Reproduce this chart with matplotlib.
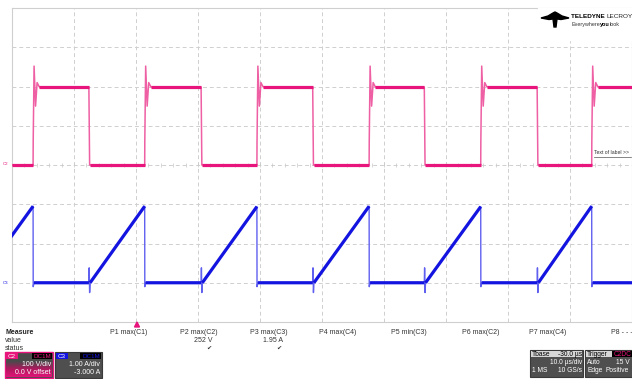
import matplotlib
matplotlib.use("Agg")
import matplotlib.pyplot as plt
from matplotlib.patches import Rectangle, Polygon
from matplotlib.colors import LinearSegmentedColormap
import numpy as np

plt.rcParams['font.family'] = ['Liberation Sans', 'DejaVu Sans']

W, H = 632, 379

# ---- data (time in us, 10 us/div) ----
rise_us = [3.4, 21.4, 39.5, 57.6, 75.6, 93.5]
fall_us = [-5.7, 12.4, 30.5, 48.5, 66.5, 84.7]
v_high = 198.0          # C2 plateau, V
ring_dt = [0.16, 0.4, 0.65, 1.0]
ring_v = [252.0, 150.0, 210.0, 199.0]
i_peak = [1.95, 1.95, 1.94, 1.95, 1.94, 1.95]   # C3 ramp peak, A
i_spike = [0.38, -0.25]

pink = "#E8157C"
pink_lt = "#EE5FA3"
blue = "#1414E0"
blue_lt = "#6060F0"
gridc = "#CFCFCF"

meas_names = ["P1 max(C1)", "P2 max(C2)", "P3 max(C3)", "P4 max(C4)",
              "P5 min(C3)", "P6 max(C2)", "P7 max(C4)", "P8 - - -"]
meas_x = [110, 180, 250, 319, 391, 462, 529, 611]
meas_vals = {1: "252 V", 2: "1.95 A"}


def fx(x):
    return x / W


def fy(y):
    return 1 - y / H


fig = plt.figure(figsize=(W / 100, H / 100), dpi=100)
fig.patch.set_facecolor("white")

ax = fig.add_axes([fx(12), fy(322), (632 - 12) / W, (322 - 8) / H])
ax.set_xlim(0, 100)
ax.set_ylim(-400, 400)
ax.set_xticks([])
ax.set_yticks([])
for s in ax.spines.values():
    s.set_color(gridc)
    s.set_linewidth(0.8)
for k in range(1, 10):
    ax.axvline(k * 10, color=gridc, lw=0.7, ls=(0, (4, 3)), zorder=0)
for k in range(1, 8):
    ax.axhline(-400 + k * 100, color=gridc, lw=0.7, ls=(0, (4, 3)), zorder=0)
# centre line ticks
tk = np.arange(0, 100.1, 2)
ax.plot(tk, np.zeros_like(tk), "|", color="#C8C8C8", ms=2.2, mew=0.5, zorder=0)

ax2 = ax.twinx()
ax2.set_ylim(-1, 7)
ax2.axis("off")

# ---- C2 (voltage) ----
tp, vp = [0.0], [0.0]
plat_t = [0.0, rise_us[0], np.nan]
plat_v = [0.0, 0.0, np.nan]
for r in rise_us:
    f_after = [f for f in fall_us if f > r]
    tp += [r, r + 0.02]
    vp += [0.0, 60.0]
    tp += [r + d for d in ring_dt]
    vp += ring_v
    if f_after:
        f = f_after[0]
        nxt = [x for x in rise_us if x > f]
        end = nxt[0] if nxt else 100.0
        tp += [f, f + 0.12, end]
        vp += [v_high, 0.0, 0.0]
        plat_t += [r + ring_dt[-1], f, np.nan, f + 0.15, end, np.nan]
        plat_v += [v_high, v_high, np.nan, 0.0, 0.0, np.nan]
    else:
        tp += [100.0]
        vp += [v_high]
        plat_t += [r + ring_dt[-1], 100.0]
        plat_v += [v_high, v_high]
ax.plot(tp, vp, color=pink_lt, lw=1.1, zorder=3)
ax.plot(plat_t, plat_v, color=pink, lw=2.3, zorder=4, solid_capstyle="butt")

# ---- C3 (current) ----
ti, ii = [], []
ramp_t, ramp_i = [], []
for k, f in enumerate(fall_us):
    r = rise_us[k]
    pk = i_peak[k]
    ti += [f, f + 0.05, f + 0.12, f + 0.2, r, r + 0.02, r + 0.15]
    ii += [0.0, i_spike[0], i_spike[1], 0.0, pk, -0.1, 0.0]
    nxt = [x for x in fall_us if x > r]
    end = nxt[0] if nxt else 100.0
    ti += [end]
    ii += [0.0]
    ramp_t += [f + 0.2, r, np.nan, r + 0.15, end, np.nan]
    ramp_i += [0.0, pk, np.nan, 0.0, 0.0, np.nan]
ax2.plot(ti, ii, color=blue_lt, lw=1.0, zorder=3)
ax2.plot(ramp_t, ramp_i, color=blue, lw=2.3, zorder=4, solid_capstyle="butt")

# ---- left channel markers ----
fig.text(fx(3), fy(164), "C2", color=pink, fontsize=3.2, va="center")
fig.text(fx(3), fy(283), "C3", color=blue, fontsize=3.2, va="center")

# label on the right
fig.text(fx(594), fy(153), "Text of label >>", color="#333333", fontsize=3.7, va="center")
fig.add_artist(plt.Line2D([fx(594), fx(631)], [fy(156.5), fy(156.5)], color="#555555", lw=0.5))

# trigger marker
fig.add_artist(Polygon([[fx(134.5), fy(327)], [fx(139.5), fy(327)], [fx(137), fy(322)]],
                       closed=True, color=pink, transform=fig.transFigure))

# ---- logo ----
fig.add_artist(Rectangle((fx(538), fy(40)), fx(94), 32 / H, color="white", zorder=5,
                         transform=fig.transFigure))
bird = [[541, 18], [548, 16], [553, 13], [555, 12], [557, 13], [562, 16], [569, 18],
        [561, 19.5], [557, 19], [556, 27], [554, 27], [553, 19], [549, 19.5]]
fig.add_artist(Polygon([[fx(x), fy(y)] for x, y in bird], closed=True, color="black",
                       zorder=6, transform=fig.transFigure))

fig.canvas.draw()
rend = fig.canvas.get_renderer()


def run_text(x, y, parts):
    # place pieces of text one after another
    for s, kw in parts:
        t = fig.text(fx(x), fy(y), s, va="center", zorder=7, **kw)
        x += t.get_window_extent(rend).width


run_text(571, 17, [("TELEDYNE ", dict(fontsize=4.6, weight="bold")),
                   ("LECROY", dict(fontsize=4.6, color="#222222"))])
run_text(571, 24.5, [("Everywhere", dict(fontsize=3.9, color="#333333")),
                     ("you", dict(fontsize=3.9, weight="bold")),
                     ("look", dict(fontsize=3.9, color="#333333"))])

# ---- measurement table ----
fig.text(fx(5), fy(332), "Measure", fontsize=5, weight="bold", va="center", color="#222222")
fig.text(fx(5), fy(340), "value", fontsize=5, va="center", color="#333333")
fig.text(fx(5), fy(348), "status", fontsize=5, va="center", color="#333333")
for k, (name, x) in enumerate(zip(meas_names, meas_x)):
    fig.text(fx(x), fy(332), name, fontsize=5, va="center", color="#333333")
    if k in meas_vals:
        right = x + 33
        fig.text(fx(right), fy(340), meas_vals[k], fontsize=5, va="center", ha="right",
                 color="#333333")
        fig.text(fx(right - 1), fy(348.5), "\u2714", fontsize=4.5, va="center", ha="right",
                 color="#333333", family=["DejaVu Sans"])


def box(x0, x1, y0, y1, fc, ec=None, lw=0.0, z=5):
    fig.add_artist(Rectangle((fx(x0), fy(y1)), fx(x1 - x0), (y1 - y0) / H, facecolor=fc,
                             edgecolor=ec if ec else fc, lw=lw, zorder=z,
                             transform=fig.transFigure))


# C2 descriptor
box(5, 53, 352, 378, "#4A4A4A", pink, 1.0)
grad = np.linspace(0, 1, 30).reshape(-1, 1)
gax = fig.add_axes([fx(6), fy(377), fx(46), 16 / H], zorder=6)
cm = LinearSegmentedColormap.from_list("pg", ["#4A4A4A", "#B0185F", "#E01577"])
gax.imshow(grad, aspect="auto", cmap=cm, origin="lower")
gax.axis("off")
gax.invert_yaxis()
box(6, 18, 353, 359, pink, z=7)
box(32, 52, 353, 359, "black", z=7)
fig.text(fx(8), fy(356), "C2", fontsize=4.5, color="white", va="center", zorder=8)
fig.text(fx(51), fy(356), "DC1M", fontsize=4.5, color=pink, va="center", ha="right", zorder=8)
fig.text(fx(51), fy(364), "100 V/div", fontsize=5, color="white", va="center", ha="right", zorder=8)
fig.text(fx(51), fy(372), "0.0 V offset", fontsize=5, color="white", va="center", ha="right",
         zorder=8)

# C3 descriptor
box(55, 102, 352, 378, "#4F4F4F", "#3A3A3A", 0.8)
box(56, 68, 353, 359, blue, z=7)
box(80, 101, 353, 359, "black", z=7)
fig.text(fx(58), fy(356), "C3", fontsize=4.5, color="white", va="center", zorder=8)
fig.text(fx(100), fy(356), "DC1M", fontsize=4.5, color=blue, va="center", ha="right", zorder=8)
fig.text(fx(100), fy(364), "1.00 A/div", fontsize=5, color="white", va="center", ha="right", zorder=8)
fig.text(fx(100), fy(372), "-3.000 A", fontsize=5, color="white", va="center", ha="right", zorder=8)

# timebase
box(530, 583, 350, 377, "#4F4F4F", "#3A3A3A", 0.8)
box(531, 582, 351, 357, "#D6D6D6", z=6)
fig.text(fx(532), fy(354), "Tbase", fontsize=4.8, color="black", va="center", zorder=8)
fig.text(fx(582), fy(354), "-30.0 \u00b5s", fontsize=4.8, color="black", va="center", ha="right", zorder=8)
fig.text(fx(582), fy(363), "10.0 \u00b5s/div", fontsize=4.8, color="white", va="center", ha="right", zorder=8)
fig.text(fx(532), fy(371), "1 MS", fontsize=4.8, color="white", va="center", zorder=8)
fig.text(fx(582), fy(371), "10 GS/s", fontsize=4.8, color="white", va="center", ha="right", zorder=8)

# trigger
box(585, 640, 350, 377, "#4F4F4F", "#3A3A3A", 0.8)
box(586, 640, 351, 357, "#D6D6D6", z=6)
box(612, 640, 351, 357, "black", z=7)
fig.text(fx(587), fy(354), "Trigger", fontsize=4.8, color="black", va="center", zorder=8)
fig.text(fx(614), fy(354), "C2DC", fontsize=4.8, color=pink, va="center", zorder=8)
fig.text(fx(587), fy(363), "Auto", fontsize=4.8, color="white", va="center", zorder=8)
fig.text(fx(630), fy(363), "15 V", fontsize=4.8, color="white", va="center", ha="right", zorder=8)
fig.text(fx(587), fy(371), "Edge", fontsize=4.8, color="white", va="center", zorder=8)
fig.text(fx(605), fy(371), "Positive", fontsize=4.8, color="white", va="center", zorder=8)

fig.savefig("out.png", dpi=100)
